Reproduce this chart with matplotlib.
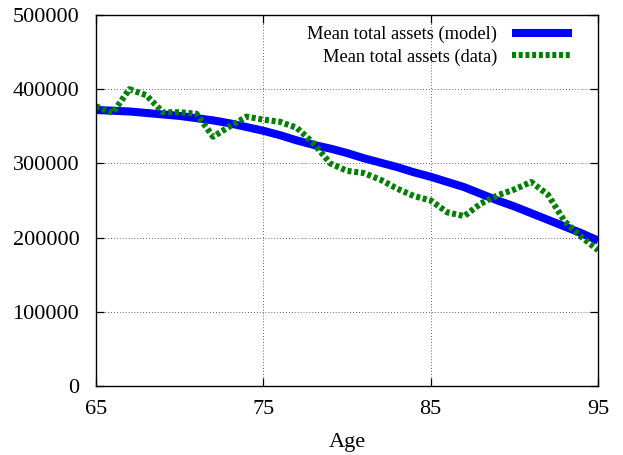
import matplotlib
matplotlib.use("Agg")
import matplotlib.pyplot as plt

ages = list(range(65, 96))
model_assets = [372000, 371000, 370000, 368000, 366000, 364000, 361000, 358000,
                354000, 349000, 344000, 338000, 331000, 325000, 320000, 314000,
                307000, 301000, 295000, 288000, 282000, 275000, 268000, 259000,
                250000, 242000, 233000, 224000, 215000, 206000, 196000]
data_assets = [377000, 368000, 400000, 392000, 369000, 369000, 367000, 336000,
               350000, 363000, 359000, 356000, 348000, 327000, 300000, 290000,
               287000, 278000, 266000, 256000, 250000, 234000, 229000, 246000,
               257000, 265000, 275000, 258000, 222000, 201000, 183000]
x_ticks = [65, 75, 85, 95]
y_ticks = [0, 100000, 200000, 300000, 400000, 500000]

plt.rcParams['font.family'] = ['Liberation Serif', 'DejaVu Serif']

fig = plt.figure(figsize=(6.23, 4.55), dpi=100)
ax = fig.add_axes([0.154, 0.1516, 0.806, 0.8154])

ax.plot(ages, model_assets, color='#0000ff', lw=5.8,
        solid_capstyle='butt', solid_joinstyle='round',
        label='Mean total assets (model)')
ax.plot(ages, data_assets, color='#008000', lw=4.4,
        linestyle=(0, (0.65, 0.45)), dash_capstyle='butt',
        label='Mean total assets (data)')

ax.set_xlim(65, 95)
ax.set_ylim(0, 500000)
ax.set_xticks(x_ticks)
ax.set_yticks(y_ticks)
ax.set_xticklabels([str(t) for t in x_ticks])
ax.set_yticklabels([str(t) for t in y_ticks])
ax.tick_params(direction='in', length=6, width=0.9, top=True, right=True,
               labelsize=16)
ax.tick_params(axis='y', pad=12)
ax.tick_params(axis='x', pad=10)
ax.grid(True, color='#333333', linestyle=(0, (1, 2.5)), linewidth=0.6)
for s in ax.spines.values():
    s.set_linewidth(1.0)

ax.set_xlabel('Age', fontsize=16, labelpad=10)

leg = ax.legend(loc='upper right', frameon=False, markerfirst=False,
                handlelength=3.3, handletextpad=0.8, fontsize=13.2,
                borderaxespad=0.2, labelspacing=0.27,
                bbox_to_anchor=(0.970, 1.0))

fig.savefig('out.png', dpi=100)
